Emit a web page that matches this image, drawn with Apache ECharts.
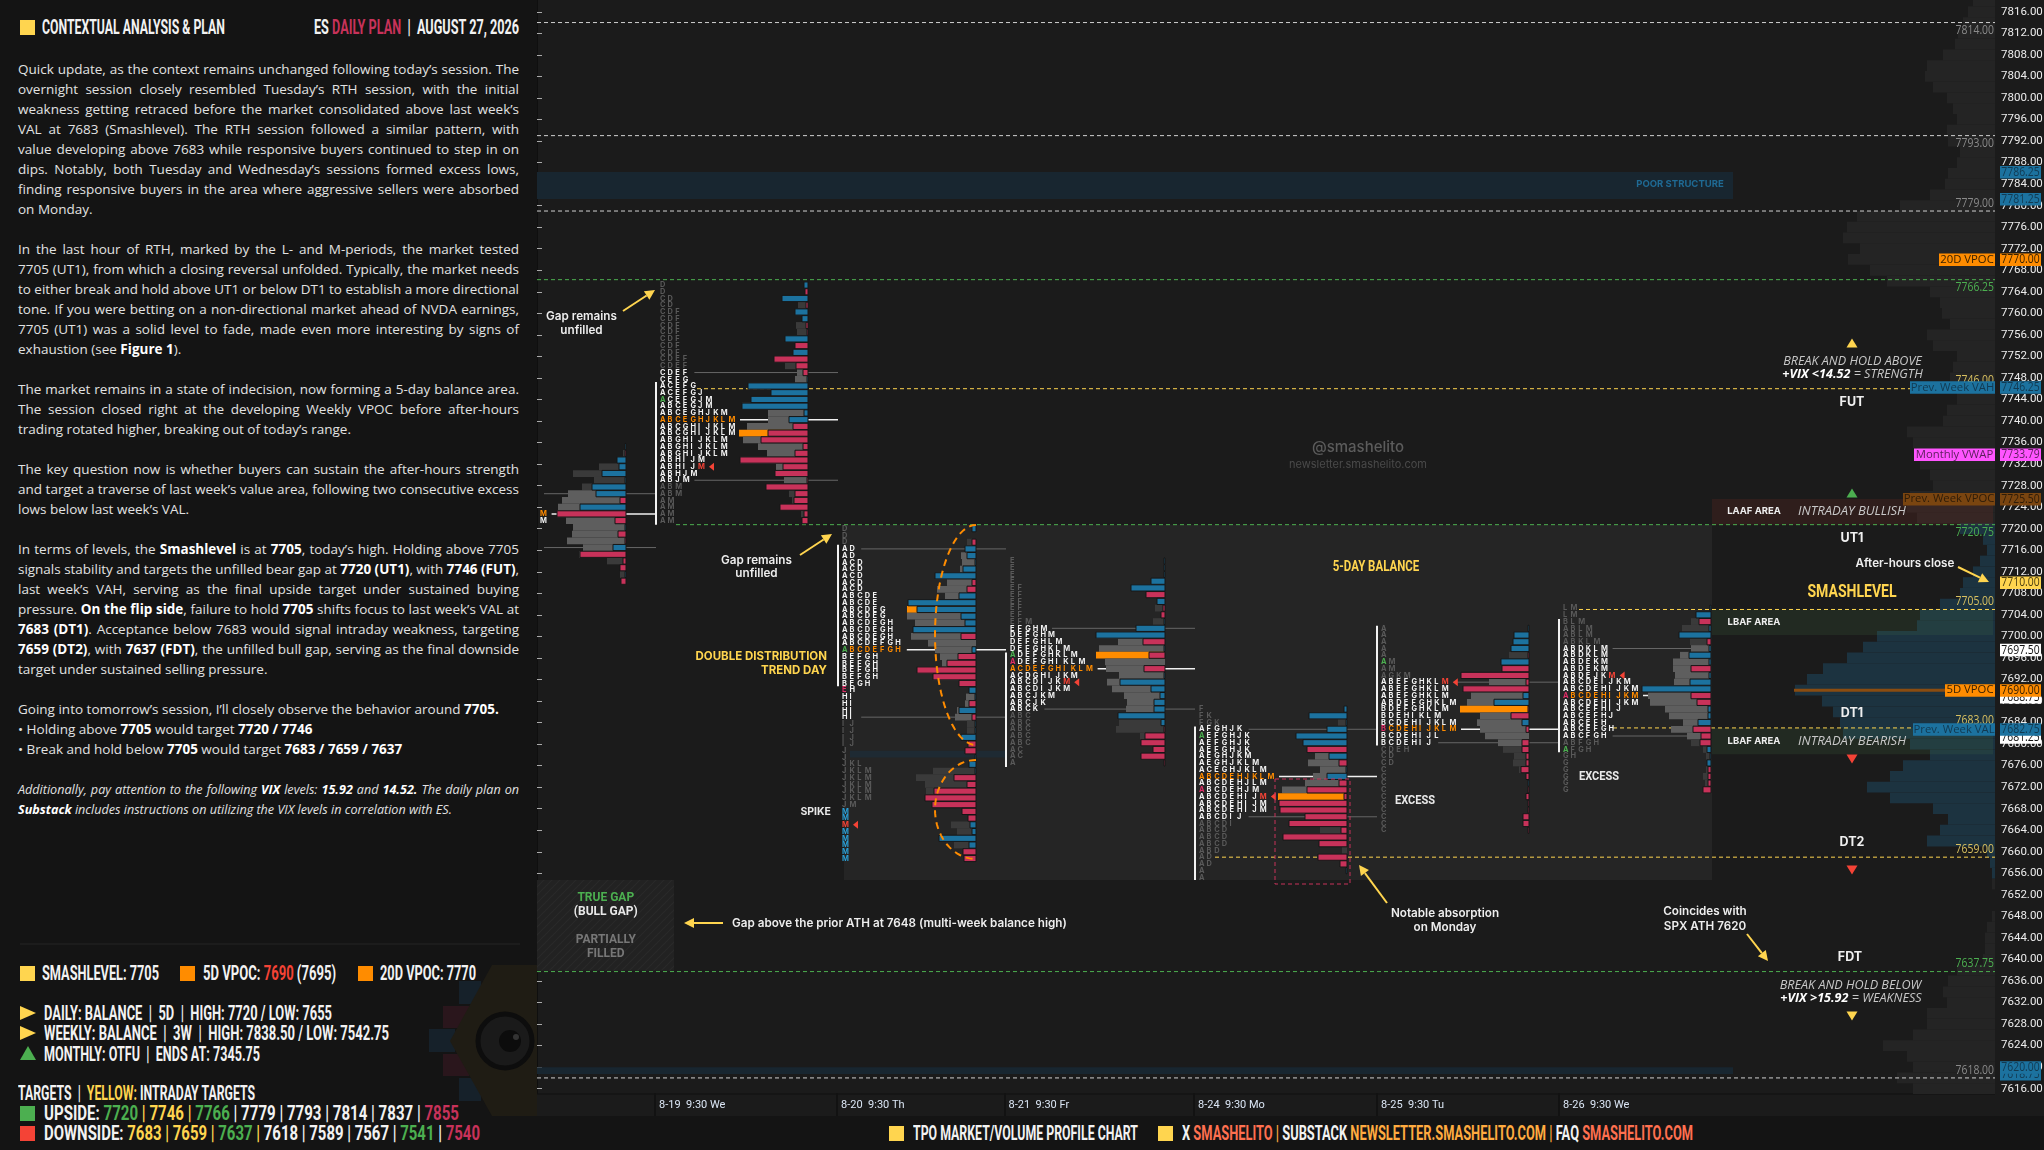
<!DOCTYPE html>
<html><head><meta charset="utf-8"><title>ES Daily Plan</title>
<script src="https://cdn.jsdelivr.net/npm/echarts@6/dist/echarts.min.js"></script>
<style>
html,body{margin:0;padding:0;background:#141414;width:2044px;height:1150px;overflow:hidden}
#chart{position:absolute;left:0;top:0;width:2044px;height:1150px}
#panel{position:absolute;left:0;top:0;width:537px;height:1150px;background:#141414;overflow:hidden;color:#e6e6e6}
#foot{position:absolute;left:0;top:1116px;width:2044px;height:34px;background:#141414}
.t{position:absolute;white-space:nowrap;font:13.5px/20px "Open Sans",sans-serif;color:#e2e2e2;left:18px;width:501px;transform-origin:left center}
.t b{color:#fff;font-weight:700}
.j{text-align:justify;text-align-last:justify}
.h{position:absolute;white-space:nowrap;font:700 21px/22px Roboto,sans-serif;color:#f2f2f2;transform-origin:left center}
.y{color:#ffd54f}.r{color:#c8325a}.g{color:#4caf50}.e{color:#f44336}.c{color:#ff7050}.o{color:#ffab40}
.s{position:absolute;width:15px;height:15px}
svg{position:absolute;left:0;top:0}
</style></head><body>
<div id="chart"></div>
<div id="panel"></div>
<div id="foot"></div>
<script>
// ---------- axis ----------
const tickLabels=[7816,7812,7808,7804,7800,7796,7792,7788,7784,7780,7776,7772,7768,7764,7760,7756,7752,7748,7744,7740,7736,7732,7728,7724,7720,7716,7712,7708,7704,7700,7696,7692,7688,7684,7680,7676,7672,7668,7664,7660,7656,7652,7648,7644,7640,7636,7632,7628,7624,7620,7616];
const timeTicks=[118,300,467.5,657,840,1022];
const timeLabels=['8-19  9:30 We','8-20  9:30 Th','8-21  9:30 Fr','8-24  9:30 Mo','8-25  9:30 Tu','8-26  9:30 We'];

// ---------- key levels ----------
const levelPrices=[7814,7793,7779,7766.25,7746,7720.75,7705,7683,7659,7637.75,7618];
const levelLabels=['7814.00','7793.00','7779.00','7766.25','7746.00','7720.75','7705.00','7683.00','7659.00','7637.75','7618.00'];
const levelKinds=['w','w','w','g','y','g','y','y','y','g','w'];
const levelStart=[0,0,0,0,160,139,1042,1076,678,0,0];
const levelLabelBelow=[1,1,0,1,0,1,0,0,0,0,0];

// ---------- price tags ----------
const tagPrices=[7786.25,7781.25,7770,7746.25,7733.79,7725.5,7710,7697.5,7688.75,7690,7681.25,7682.75,7618.75,7620];
const tagTexts=['7786.25','7781.25','7770.00','7746.25','7733.79','7725.50','7710.00','7697.50','7688.75','7690.00','7681.25','7682.75','7618.75','7620.00'];
const tagKinds=['b','b','o','b','m','n','y','w','w','o','w','b','b','b'];
const tagNames=['','','20D VPOC','Prev. Week VAH','Monthly VWAP','Prev. Week VPOC','','','','5D VPOC','','Prev. Week VAL','',''];
const tagNameBox=[0,0,56,85,81,92,0,0,0,50,0,82,0,0];

// ---------- composite volume profile (price descending from 7818 in 2pt rows) ----------
const compositeTop=7818;
const compositeVolume=[22,27,32,37,40,52,68,70,62,48,42,38,48,47,35,38,47,50,65,95,138,148,152,135,147,125,108,65,55,53,45,68,62,38,42,45,38,38,48,52,88,82,78,75,65,62,85,88,78,35,12,8,15,22,32,35,55,75,78,118,132,148,172,188,200,173,162,155,152,85,65,92,105,128,105,62,47,55,68,8,5,3,3,0,0,3,8,10,10,12,38,47,52,48,68,68,82,112,88,82,98,82];

// ---------- sessions: TPO letters (+ open, - pink, ! close, ~ single print), volume, delta ----------
const s0Letters=['','','','','','','','','','','M','M','','','','','','','','',''];
const s0Volume=[1,3,9,27,53,32,44,58,64,68,69,60,53,54,59,43,47,19,6,6,5];
const s0Delta=[1,-1,9,7,24,1,34,30,-6,46,-69,-11,1,-8,-1,13,-46,-3,-6,1,-5];

const s1Letters=['D','D','CD','CD','CDF','CDF','CDF','CDF','CDF','CDF','CDF','CDEF','CDEF','CDEF','CEFG','ACEFG','ACEFGJ','+ACEFGJM','ABCEGJM','ABCEGHJKM','ABCEGHJKLM','ABCGHIJKLM','ABCGHIJKLM','ABGHIJKLM','ABGHIJKLM','ABGHIJKLM','ABHIJM','ABHIJ!M','ABHJM','ABJM','ABM','ABM','AM','AM','AM','AM'];
const s1Volume=[4,3,26,10,13,6,12,11,23,13,15,34,23,11,13,60,37,57,66,40,40,61,69,65,50,41,68,32,33,24,42,19,16,28,7,6];
const s1Delta=[4,-3,26,-2,13,6,-2,-1,23,-13,15,-34,-12,-5,1,60,37,57,66,4,19,-15,-40,-47,-5,-13,-68,-25,-33,-1,-42,-13,-14,-28,-4,-6];

const s2Letters=['D','D','D','AD','AD','ACD','ACD','ACD','ACD','ACD','ABCDE','ABCDE','ABCDEG','ABCDEG','ABCDEGH','ABCDEGH','ABCDEGH','ABCDEFGH','+ABCDEFGH','BEFGH','BEFGH','BEFGH','BEFGH','BEGH','-EH','HI','HI','HI','HI','IJ','IJ','IJ','IJ','J','J','JKL','JKLM','JKLM','JKLM','JKLM','JKLM','JM','~M','~M','!M','~M','~M','~M','~M','~M'];
const s2Volume=[4,0,9,11,15,14,16,41,29,39,31,68,69,69,61,63,65,48,41,36,34,59,43,17,7,10,11,19,21,9,9,15,8,11,1,7,43,60,51,50,51,44,14,8,25,19,37,22,13,12];
const s2Delta=[4,0,-4,11,9,1,13,41,-4,-9,17,68,59,15,11,63,-15,0,4,-18,-29,-59,-43,-17,7,1,-7,17,-4,1,1,15,-8,-11,1,7,1,-22,-9,-42,-51,-44,-14,-8,6,4,37,7,-13,-12];

const s3Letters=['E','E','E','E','EF','EF','EF','EF','EF','EFM','EFGHM','DEFGHM','DEFGHLM','DEFGHKLM','+ADEFGHKLM','-ADEFGHIKLM','ACDEFGHIKLM','ACDGHIJKM','ABCDIJK!M','ABCDIJKM','ABCJKM','ABCJK','ABCK','ABC','ABC','ABC','ABC','ABC','AC','AC','A'];
const s3Volume=[1,1,1,14,34,19,8,10,4,12,29,69,47,66,69,60,59,46,58,53,41,38,39,47,46,49,25,24,12,24,1];
const s3Delta=[1,1,1,14,34,-19,8,-2,-4,1,29,69,-22,1,-16,0,-21,1,45,14,5,11,11,47,4,-1,-20,-24,-12,-24,-1];

const s4Letters=['F','FK','FGK','AFGHJK','+AEFGHJK','AEFGHJK','AEFGHJK','AEGHJKM','AEGHJKLM','ACEGHJKLM','ABCDEHJKLM','ABCDEHJLM','-ABCDEHJM','ABCDEHIJ!M','ABCDEHIJM','ABCDEHIJM','ABCDIJ','ABCDI','ABCD','ABCD','ABCD','ABD','AD','AD','A','A'];
const s4Volume=[3,38,9,20,51,44,40,32,39,27,34,42,65,69,68,67,42,58,27,64,28,5,29,7,1,0];
const s4Delta=[3,38,1,20,51,44,-40,18,-8,1,20,-8,-40,-3,-68,-67,-42,-58,-6,-64,-28,0,-29,-7,1,0];

const s5Letters=['A','A','A','A','A','+AM','AM','AGKM','ABEFGHKL!M','ABEFGHKLM','ABEFGHKLM','ABDEFGHKLM','BDEFGHKLM','BDEHIKLM','BCDEHIJKLM','-BCDEHIJKLM','BCDEHIJL','BCDEHIJ','CDEH','CD','CD','C','C','C','C','C','C','C','C','C','C'];
const s5Volume=[1,15,16,18,20,28,27,68,40,66,58,62,69,49,52,49,44,31,26,15,16,10,3,1,1,3,1,1,6,6,1];
const s5Delta=[1,15,16,18,-1,28,-27,-68,-3,-66,6,35,-1,-18,7,-3,0,-7,-7,-3,-3,-8,-3,1,-1,-3,-1,-1,-6,-6,-1];

const s6Letters=['LM','LM','BLM','ABLM','ABLM','ABKLM','ABDKLM','ABDKLM','ABDEKM','ABDEKM','ABDEJK!M','ABCDEIJKM','ABCDEHIJKM','-ABCDEHIJKM','ABCDEHIJKM','ABCEFHIJ','ABCEFHJ','ABCEFH','ABCEFGH','ABCFGH','ABFGH','+AFGH','GH','G','G','G','G','G'];
const s6Volume=[1,15,20,29,32,21,20,31,38,38,36,37,69,63,61,46,42,28,40,24,20,8,5,4,5,8,6,8];
const s6Delta=[1,15,-12,2,32,-4,2,22,2,-20,2,21,69,-20,-14,3,3,13,-18,-10,-11,4,1,4,-3,-3,-3,-8];

const sessionLetters=[s0Letters,s1Letters,s2Letters,s3Letters,s4Letters,s5Letters,s6Letters];
const sessionVolume=[s0Volume,s1Volume,s2Volume,s3Volume,s4Volume,s5Volume,s6Volume];
const sessionDelta=[s0Delta,s1Delta,s2Delta,s3Delta,s4Delta,s5Delta,s6Delta];
const sessionTop=[7735.25,7765.25,7720,7714,7686.5,7701.5,7705.25];
const sessionVAH=[7,13,3,10,3,8,6];
const sessionPOC=[10,20,18,16,10,15,13];
const sessionVAL=[15,29,28,22,16,17,19];
const sessionVolPOC=[-1,22,12,14,13,12,-1];
const sessionIBHigh=[null,7747.25,7717,7697,7683.25,7702,7703.25];
const sessionIBLow=[null,7720.75,7690.75,7675.75,7654.75,7679.75,7678.5];
// chart-axis positions of each session
const sessionLettersAt=[3,123,305,473,662,844,1026];
const sessionRightAt=[89,271,439,628,810,992,1174];
const sessionLineEnd=[119,301,469,658,840,1022,1174];
const rowStep=1.25;

// ---------- zones ----------
const zones=[
 {x1:307,x2:1175,p1:7720.75,p2:7654.75,c:'#252525',layer:0},
 {x1:0,x2:1196,p1:7786.25,p2:7781.25,c:'#182630',layer:1},
 {x1:0,x2:1196,p1:7620,p2:7618.75,c:'#182630',layer:1},
 {x1:313,x2:469,p1:7678.75,p2:7677.5,c:'#1e2a33',layer:1},
 {x1:1175,x2:1456,p1:7725.5,p2:7720.75,c:'rgba(200,60,40,.12)',layer:1},
 {x1:1175,x2:1456,p1:7705,p2:7700.25,c:'rgba(70,120,70,.17)',layer:1},
 {x1:1175,x2:1456,p1:7683,p2:7678.1,c:'rgba(70,120,70,.17)',layer:1},
 {x1:0,x2:137,p1:7654.75,p2:7637.9,c:'hatch',layer:1}
];

// ---------- flatten ----------
const rows=[];
sessionLetters.forEach((L,s)=>{L.forEach((str,i)=>{
  rows.push({s,i,price:sessionTop[s]-i*rowStep,letters:str,vol:sessionVolume[s][i],delta:sessionDelta[s][i]});
});});

const C={blue:'#1c729f',red:'#c8325a',gray:'#5e5e5e',dark:'#3a3a3a',orange:'#ff8c00',bg:'#1b1b1b'};
const hatchCanvas=document.createElement('canvas');hatchCanvas.width=8;hatchCanvas.height=8;
(()=>{const x=hatchCanvas.getContext('2d');x.fillStyle='#222';x.fillRect(0,0,8,8);x.strokeStyle='#2a2a2a';x.lineWidth=1.2;
 x.beginPath();x.moveTo(-2,10);x.lineTo(10,-2);x.moveTo(-2,2);x.lineTo(2,-2);x.moveTo(6,10);x.lineTo(10,6);x.stroke();})();
const hatch={image:hatchCanvas,repeat:'repeat'};
const levelColor={w:'#d0d0d0',g:'#4caf50',y:'#ffd54f'};
const levelText={w:'#8a8a8a',g:'#4caf50',y:'#d8c060'};
const tagStyle={b:['#1c729f','#123a52'],o:['#ff8c00','#3a2200'],m:['#ff55ff','#5a1f5a'],n:['#7a4510','#2e1c08'],y:['#ffd54f','#4a3d10'],w:['#ffffff','#111111']};
const SCALED='13px "Open Sans"',SCALE=0.8;

function rectAt(api,x1,p1,x2,p2,style){const a=api.coord([x1,p1]),b=api.coord([x2,p2]);
  return {type:'rect',shape:{x:a[0],y:a[1],width:b[0]-a[0],height:b[1]-a[1]},style};}

function zoneItem(z,api){return rectAt(api,z.x1,z.p1,z.x2,z.p2,{fill:z.c==='hatch'?hatch:z.c});}
const zoneLow=zones.filter(z=>z.layer===0),zoneHigh=zones.filter(z=>z.layer===1);

function customSeries(name,z,data,render){return {name,type:'custom',z,silent:true,animation:false,coordinateSystem:'cartesian2d',
  data:data.map((d,i)=>[i,0]),encode:{x:0,y:1},clip:false,renderItem:(p,api)=>render(data[p.dataIndex],api,p.dataIndex)};}

const compositeRows=compositeVolume.map((v,i)=>({price:compositeTop-i*2,v}));

const series=[
 customSeries('zones0',1,zoneLow,zoneItem),
 customSeries('composite',2,compositeRows,(r,api)=>{ if(!r.v) return null;
   const teal=r.price<=7720&&r.price>=7655;
   return rectAt(api,1458-r.v,r.price+1,1458,r.price-1,{fill:teal?'#1c3340':'#242424'});}),
 customSeries('zones1',3,zoneHigh,zoneItem),
 customSeries('levels',4,levelPrices,(p,api,i)=>{
   const a=api.coord([levelStart[i],p]),b=api.coord([1458,p]);
   return {type:'group',children:[
    {type:'line',shape:{x1:a[0],y1:a[1],x2:b[0],y2:b[1]},style:{stroke:levelColor[levelKinds[i]],lineWidth:1,lineDash:[4,3]}},
    {type:'text',x:b[0]-1,y:a[1]+(levelLabelBelow[i]?8:-8),scaleX:SCALE,style:{text:levelLabels[i],align:'right',verticalAlign:'middle',fill:levelText[levelKinds[i]],font:SCALED}}
   ]};}),
 customSeries('vpoc5d',4,[7690],(p,api)=>{const a=api.coord([1257,p]),b=api.coord([1408,p]);
   return {type:'line',shape:{x1:a[0],y1:a[1],x2:b[0],y2:b[1]},style:{stroke:'#8a4c10',lineWidth:3}};}),
 customSeries('valueLines',5,rows.filter(r=>r.i===sessionVAH[r.s]||r.i===sessionPOC[r.s]||r.i===sessionVAL[r.s]),(r,api)=>{
   const n=r.letters.replace(/[+\-!~]/g,'').length;
   const x1=sessionLettersAt[r.s]+n*7.6+4, x2=sessionLineEnd[r.s];
   const a=api.coord([x1,r.price]),b=api.coord([x2,r.price]);
   const poc=r.i===sessionPOC[r.s];
   return {type:'line',shape:{x1:a[0],y1:a[1],x2:b[0],y2:b[1]},style:{stroke:poc?'#f0f0f0':'#666',lineWidth:poc?1.5:1}};}),
 customSeries('ibBars',5,sessionIBHigh.map((h,s)=>({h,l:sessionIBLow[s],x:sessionLettersAt[s]-4})).filter(d=>d.h),(d,api)=>{
   const a=api.coord([d.x,d.h]),b=api.coord([d.x,d.l]);
   return {type:'line',shape:{x1:a[0],y1:a[1],x2:b[0],y2:b[1]},style:{stroke:'#f2f2f2',lineWidth:2}};}),
 customSeries('volume',6,rows,(r,api)=>{ if(!r.vol) return null;
   const R=sessionRightAt[r.s];
   const inVA=r.i>=sessionVAH[r.s]&&r.i<=sessionVAL[r.s];
   const poc=r.i===sessionVolPOC[r.s];
   return rectAt(api,R-r.vol,r.price+rowStep/2,R,r.price-rowStep/2,{fill:poc?C.orange:(inVA?C.gray:C.dark)});}),
 customSeries('delta',7,rows,(r,api)=>{ if(!r.delta) return null;
   const R=sessionRightAt[r.s],w=Math.abs(r.delta);
   return rectAt(api,R-w,r.price+rowStep*0.46,R,r.price-rowStep*0.46,{fill:r.delta>0?C.blue:C.red,stroke:'#161616',lineWidth:1});}),
 customSeries('letters',8,rows,(r,api)=>{ if(!r.letters) return null;
   const kids=[];const inVA=r.i>=sessionVAH[r.s]&&r.i<=sessionVAL[r.s];const poc=r.i===sessionPOC[r.s];
   let col=0,mod='';const y=api.coord([0,r.price])[1];const x0=api.coord([sessionLettersAt[r.s],0])[0];
   for(const ch of r.letters){ if('+-!~'.includes(ch)){mod=ch;continue;}
     let fill=poc?'#ff8c00':(inVA?'#f2f2f2':'#5a5a5a');
     if(mod==='+')fill='#4caf50'; if(mod==='-')fill='#e02f68'; if(mod==='!')fill='#f44336'; if(mod==='~')fill='#2a9fd6';
     kids.push({type:'text',style:{x:x0+col*7.6,y,text:ch,fill,font:'700 7.4px Inter',align:'left',verticalAlign:'middle'}});
     if(mod==='!'){const xt=x0+col*7.6+11;kids.push({type:'polygon',shape:{points:[[xt,y],[xt+5,y-4],[xt+5,y+4]]},style:{fill:'#f44336'}});}
     col++;mod='';}
   return {type:'group',children:kids};}),
 customSeries('tagNames',9,tagNames.map((n,i)=>({n,i})).filter(d=>d.n),(d,api)=>{
   const p=api.coord([1458,tagPrices[d.i]]);const st=tagStyle[tagKinds[d.i]];
   const w=tagNameBox[d.i];
   return {type:'group',children:[
     {type:'rect',shape:{x:p[0]-w,y:p[1]-6,width:w,height:12.5},style:{fill:st[0]}},
     {type:'text',style:{x:p[0]-w/2,y:p[1],text:d.n,align:'center',verticalAlign:'middle',fill:st[1],font:'11.3px "Open Sans"'}}]};}),
 customSeries('tags',10,tagPrices,(t,api,i)=>{
   const p=api.coord([1458,t]);const st=tagStyle[tagKinds[i]];
   return {type:'group',children:[
     {type:'rect',shape:{x:p[0]+5,y:p[1]-6,width:41,height:12.5},style:{fill:st[0]}},
     {type:'text',x:p[0]+25.5,y:p[1],scaleX:SCALE,style:{text:tagTexts[i],align:'center',verticalAlign:'middle',fill:st[1],font:SCALED}}]};})
];

// ---------- annotations ----------
const ANN='600 11.7px Inter',Y='#ffd54f';
function T(x,y,text,font,fill,align,scaleX){return {type:'text',x,y,scaleX:scaleX||1,z:50,silent:true,style:{text,font:font||ANN,fill:fill||'#eee',align:align||'center',verticalAlign:'middle'}};}
function R(x,y,text,fontA,fillA,fontB,fillB){return {type:'text',x,y,z:50,silent:true,style:{text,align:'center',verticalAlign:'middle',font:fontA,fill:fillA,rich:{b:{font:fontB,fill:fillB}}}};}
function arrow(x1,y1,x2,y2){const a=Math.atan2(y2-y1,x2-x1),s=10,h=5;const bx=x2-s*Math.cos(a),by=y2-s*Math.sin(a),nx=-Math.sin(a)*h,ny=Math.cos(a)*h;
 return [{type:'line',z:50,silent:true,shape:{x1,y1,x2:bx,y2:by},style:{stroke:Y,lineWidth:2}},
         {type:'polygon',z:50,silent:true,shape:{points:[[x2,y2],[bx+nx,by+ny],[bx-nx,by-ny]]},style:{fill:Y}}];}
function tri(x,y,up,fill){const s=up?-1:1;return {type:'polygon',z:50,silent:true,shape:{points:[[x-5.5,y-4.5*s],[x+5.5,y-4.5*s],[x,y+4.5*s]]},style:{fill}};}
function halfEllipse(cx,top,bottom,rx){const pts=[],cy=(top+bottom)/2,ry=(bottom-top)/2;for(let k=0;k<=40;k++){const t=-Math.PI/2-k/40*Math.PI;pts.push([cx+rx*Math.cos(t),cy+ry*Math.sin(t)]);}
 return {type:'polyline',z:50,silent:true,shape:{points:pts},style:{stroke:'#ff8c00',lineWidth:2,lineDash:[7,5],fill:null}};}
const NB='700 12.5px Inter',IT='italic 500 12.6px "Open Sans"',ITB='italic 700 12.6px "Open Sans"';
const graphicEls=[
 {type:'rect',z:0,silent:true,shape:{x:537,y:1093,width:1458,height:2},style:{fill:'#151515'}},
 T(581.5,316,'Gap remains'),T(581.5,330,'unfilled'),...arrow(623,311,655,290),
 T(756.5,560,'Gap remains'),T(756.5,573.5,'unfilled'),...arrow(800,555,832,534),
 T(827,657,'DOUBLE DISTRIBUTION','700 11.5px Inter',Y,'right'),T(827,671,'TREND DAY','700 11.5px Inter',Y,'right'),
 T(831,812,'SPIKE','700 10.5px Inter','#e8e8e8','right'),
 halfEllipse(976,525,745,41),halfEllipse(976,760,859,41),
 T(1376,567,'5-DAY BALANCE','700 14px Roboto',Y,'center',0.82),
 T(1415,801,'EXCESS','700 13px Roboto','#e8e8e8','center',0.85),T(1599,777,'EXCESS','700 13px Roboto','#e8e8e8','center',0.85),
 {type:'rect',z:50,silent:true,shape:{x:1275,y:779,width:75,height:105},style:{fill:null,stroke:C.red,lineWidth:1,lineDash:[4,3]}},
 T(1445,913,'Notable absorption'),T(1445,927,'on Monday'),...arrow(1387,903,1359,865),
 T(1705,911,'Coincides with'),T(1705,926,'SPX ATH 7620'),...arrow(1747,934,1768,961),
 T(605.8,898,'TRUE GAP','700 12px Roboto','#4caf50'),T(605.8,912,'(BULL GAP)','700 12px Roboto','#e8e8e8'),
 T(605.8,940,'PARTIALLY','700 12px Roboto','#777'),T(605.8,954,'FILLED','700 12px Roboto','#777'),
 T(732,923,'Gap above the prior ATH at 7648 (multi-week balance high)',ANN,'#eee','left'),...arrow(723,923,684,923),
 T(1358,447,'@smashelito','500 15px Inter','#5c5c5c'),T(1358,465,'newsletter.smashelito.com','11px Inter','#4a4a4a'),
 T(1680,184,'POOR STRUCTURE','700 9.5px Inter','#1f6a94'),
 tri(1852,343,true,Y),
 T(1852.5,361.5,'BREAK AND HOLD ABOVE',IT,'#c8c8c8'),
 R(1852.5,374,'{b|+VIX <14.52} = STRENGTH',IT,'#c8c8c8',ITB,'#fff'),
 T(1852,402.5,'FUT',NB,'#f0f0f0'),tri(1852,493,true,'#4caf50'),
 T(1754,511,'LAAF AREA','700 9.5px Inter','#eee'),T(1852,511,'INTRADAY BULLISH','italic 500 13px "Open Sans"','#c8c8c8'),
 T(1852,538,'UT1',NB,'#f0f0f0'),
 T(1905,563,'After-hours close'),...arrow(1958,567,1989,582),
 T(1852,592.5,'SMASHLEVEL','700 18px Roboto',Y,'center',0.78),
 T(1754,622,'LBAF AREA','700 9.5px Inter','#eee'),T(1754,741,'LBAF AREA','700 9.5px Inter','#eee'),
 T(1852,741,'INTRADAY BEARISH','italic 500 13px "Open Sans"','#c8c8c8'),
 T(1852,713.5,'DT1',NB,'#f0f0f0'),tri(1852,759,false,'#f44336'),
 T(1852,842,'DT2',NB,'#f0f0f0'),tri(1852,870,false,'#f44336'),
 T(1850,957,'FDT',NB,'#f0f0f0'),
 T(1850.5,985,'BREAK AND HOLD BELOW',IT,'#c8c8c8'),
 R(1851,998,'{b|+VIX >15.92} = WEAKNESS',IT,'#c8c8c8',ITB,'#fff'),
 tri(1852,1016,false,Y)
];

const chart=echarts.init(document.getElementById('chart'),null,{width:2044,height:1150});
chart.setOption({
 backgroundColor:'#1b1b1b',animation:false,
 grid:{left:537,top:0,width:1458,height:1093,containLabel:false,outerBoundsMode:'none'},
 xAxis:{type:'value',min:0,max:1458,splitLine:{show:false},axisLine:{show:false},
   axisTick:{show:true,inside:false,length:23,lineStyle:{color:'#121212',width:2},customValues:timeTicks},
   axisLabel:{customValues:timeTicks,color:'#dbe6f5',fontFamily:'Roboto',fontSize:11,align:'left',margin:7,padding:[0,0,0,4],
     formatter:(v)=>timeLabels[timeTicks.indexOf(v)]||''}},
 yAxis:{type:'value',position:'right',min:7615.2,max:7818.19,splitLine:{show:false},
   axisLine:{show:true,lineStyle:{color:'#0f0f0f',width:2}},
   axisTick:{show:true,length:5,lineStyle:{color:'#aaa'},customValues:tickLabels},
   axisLabel:{customValues:tickLabels,color:'#ececec',fontFamily:'Roboto',fontSize:11.5,margin:6,align:'left',formatter:(v)=>v.toFixed(2)}},
 series,graphic:{elements:graphicEls}
});

// ---------- left panel text ----------
const paragraphs=[
[68.6,['Quick update, as the context remains unchanged following today’s session. The','overnight session closely resembled Tuesday’s RTH session, with the initial','weakness getting retraced before the market consolidated above last week’s','VAL at 7683 (Smashlevel). The RTH session followed a similar pattern, with','value developing above 7683 while responsive buyers continued to step in on','dips. Notably, both Tuesday and Wednesday’s sessions formed excess lows,','finding responsive buyers in the area where aggressive sellers were absorbed','on Monday.']],
[248.6,['In the last hour of RTH, marked by the L- and M-periods, the market tested','7705 (UT1), from which a closing reversal unfolded. Typically, the market needs','to either break and hold above UT1 or below DT1 to establish a more directional','tone. If you were betting on a non-directional market ahead of NVDA earnings,','7705 (UT1) was a solid level to fade, made even more interesting by signs of','exhaustion (see <b>Figure 1</b>).']],
[388.6,['The market remains in a state of indecision, now forming a 5-day balance area.','The session closed right at the developing Weekly VPOC before after-hours','trading rotated higher, breaking out of today’s range.']],
[468.6,['The key question now is whether buyers can sustain the after-hours strength','and target a traverse of last week’s value area, following two consecutive excess','lows below last week’s VAL.']],
[549,['In terms of levels, the <b>Smashlevel</b> is at <b>7705</b>, today’s high. Holding above 7705','signals stability and targets the unfilled bear gap at <b>7720 (UT1)</b>, with <b>7746 (FUT)</b>,','last week’s VAH, serving as the final upside target under sustained buying','pressure. <b>On the flip side</b>, failure to hold <b>7705</b> shifts focus to last week’s VAL at','<b>7683 (DT1)</b>. Acceptance below 7683 would signal intraday weakness, targeting','<b>7659 (DT2)</b>, with <b>7637 (FDT)</b>, the unfilled bull gap, serving as the final downside','target under sustained selling pressure.']],
[709.2,['Going into tomorrow’s session, I’ll closely observe the behavior around <b>7705.</b>']],
[729.2,['• Holding above <b>7705</b> would target <b>7720 / 7746</b>']],
[749.2,['• Break and hold below <b>7705</b> would target <b>7683 / 7659 / 7637</b>']],
[789.5,['<i>Additionally, pay attention to the following <b>VIX</b> levels: <b>15.92</b> and <b>14.52.</b> The daily plan on</i>','<i><b>Substack</b> includes instructions on utilizing the VIX levels in correlation with ES.</i>']]
];
const panel=document.getElementById('panel'),foot=document.getElementById('foot');
paragraphs.forEach(([y0,lines])=>{lines.forEach((html,i)=>{
  const d=document.createElement('div');d.className='t'+(i<lines.length-1?' j':'');
  d.style.top=(y0+i*20-10)+'px';
  const isItalic=html.startsWith('<i>');if(isItalic)d.style.fontSize='12.6px';
  d.innerHTML='<span>'+html+'</span>';panel.appendChild(d);
  const natural=d.firstChild.getBoundingClientRect().width;
  if(natural>501){const k=501/natural;d.style.width=(501/k)+'px';d.style.transform='scaleX('+k+')';}
});});

// condensed headline rows: [parent, left, centre y, target width, html]
const heads=[
 [panel,41.7,27,183,'CONTEXTUAL ANALYSIS &amp; PLAN'],
 [panel,314,27,205,'ES <span class="r">DAILY PLAN</span> &nbsp;|&nbsp; AUGUST 27, 2026'],
 [panel,41.7,973,117,'SMASHLEVEL: 7705'],
 [panel,203,973,133,'5D VPOC: <span class="e">7690</span> (7695)'],
 [panel,380,973,96,'20D VPOC: 7770'],
 [panel,43.8,1013,288,'DAILY: BALANCE &nbsp;|&nbsp; 5D &nbsp;|&nbsp; HIGH: 7720 / LOW: 7655'],
 [panel,43.8,1033,345,'WEEKLY: BALANCE &nbsp;|&nbsp; 3W &nbsp;|&nbsp; HIGH: 7838.50 / LOW: 7542.75'],
 [panel,43.8,1053.6,216,'MONTHLY: OTFU &nbsp;|&nbsp; ENDS AT: 7345.75'],
 [panel,18,1093,237,'TARGETS &nbsp;|&nbsp; <span class="y">YELLOW:</span> INTRADAY TARGETS'],
 [panel,43.8,1113,415,'UPSIDE: <span class="g">7720</span> <span class="y">|</span> <span class="y">7746</span> <span class="y">|</span> <span class="g">7766</span> | 7779 | 7793 | 7814 | 7837 | <span class="r">7855</span>'],
 [panel,43.8,1133,436,'DOWNSIDE: <span class="y">7683</span> <span class="y">|</span> <span class="y">7659</span> <span class="y">|</span> <span class="g">7637</span> <span class="y">|</span> 7618 | 7589 | 7567 | <span class="g">7541</span> | <span class="r">7540</span>'],
 [foot,913,16.7,225,'TPO MARKET/VOLUME PROFILE CHART'],
 [foot,1182,16.7,511,'X <span class="c">SMASHELITO</span> <span class="o">|</span> SUBSTACK <span class="o">NEWSLETTER.SMASHELITO.COM |</span> FAQ <span class="c">SMASHELITO.COM</span>']
];
heads.forEach(([p,x,y,w,html])=>{const d=document.createElement('div');d.className='h';d.style.left=x+'px';d.style.top=(y-11)+'px';d.innerHTML=html;p.appendChild(d);
  const n=d.getBoundingClientRect().width;d.style.transform='scaleX('+(w/n)+')';});
// markers
const sq=[[panel,20,20,'#ffd54f'],[panel,20,966,'#ffd54f'],[panel,180,966,'#ff8c00'],[panel,358,966,'#ff8c00'],[panel,20,1106,'#4caf50'],[panel,20,1126,'#f44336'],[foot,889,9.5,'#ffd54f'],[foot,1158,9.5,'#ffd54f']];
sq.forEach(([p,x,y,c])=>{const d=document.createElement('div');d.className='s';d.style.cssText+='left:'+x+'px;top:'+y+'px;background:'+c;p.appendChild(d);});
const svg=`<svg width="537" height="1150" style="z-index:-1">
<g><rect x="459" y="981" width="22" height="23" fill="#16212a"/><rect x="443" y="1006" width="26" height="22" fill="#2a161c"/><rect x="429" y="1029" width="26" height="23" fill="#16212a"/><rect x="443" y="1054" width="26" height="22" fill="#2a161c"/><rect x="459" y="1078" width="22" height="23" fill="#16212a"/>
<polygon points="450,1041 492,965 537,965 537,1116 492,1116" fill="#1f1c14"/>
<circle cx="505" cy="1041" r="27" fill="#1a1a1a" stroke="#0d0d0d" stroke-width="5"/><circle cx="510" cy="1041" r="11" fill="#0c0c0c"/><circle cx="516" cy="1037" r="3" fill="#333"/></g>
<rect x="20" y="943" width="500" height="2" fill="#1c1c1c"/>
<polygon points="20,1006 36,1013 20,1020" fill="#ffd54f"/><polygon points="20,1026 36,1033 20,1040" fill="#ffd54f"/><polygon points="28,1046 36,1060 20,1060" fill="#4caf50"/>
</svg>`;
panel.insertAdjacentHTML('afterbegin',svg);
panel.style.zIndex=2;foot.style.zIndex=1;
</script></body></html>
